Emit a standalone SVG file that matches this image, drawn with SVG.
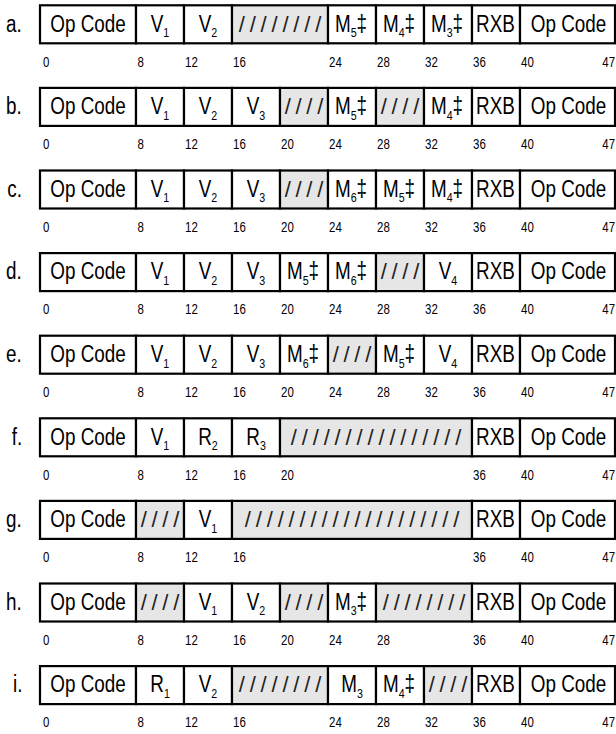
<svg xmlns="http://www.w3.org/2000/svg" width="616" height="734" viewBox="0 0 616 734">
<style>
text{font-family:"Liberation Sans",Arial,sans-serif;fill:#000}
.t,.rl,.n{transform-box:fill-box;transform-origin:center;transform:scaleX(0.82)}
.t{font-size:23px;text-anchor:middle}
.rl{font-size:23px;text-anchor:end}
.s{font-size:13px}
.n{font-size:14px}
.ne{font-size:14px;text-anchor:end}
.f{fill:#fff;stroke:#000;stroke-width:2.2}
.g{fill:#e6e6e6;stroke:#000;stroke-width:2.2}
.sl{font-size:22px;text-anchor:middle;fill:#222}
</style>
<rect width="616" height="734" fill="#fff"/>

<g id="row-a" transform="translate(0,5.3)">
<text class="rl" x="23.5" y="26.4">a.</text>
<rect class="f" x="40" y="0" width="96" height="38"/><text class="t" x="88" y="26.4">Op Code</text>
<rect class="f" x="136" y="0" width="48" height="38"/><text class="t" x="160" y="26.4">V<tspan class="s" dy="5.5">1</tspan></text>
<rect class="f" x="184" y="0" width="48" height="38"/><text class="t" x="208" y="26.4">V<tspan class="s" dy="5.5">2</tspan></text>
<rect class="g" x="232" y="0" width="96" height="38"/><text class="sl" x="280" y="26.4" textLength="82.5">////////</text>
<rect class="f" x="328" y="0" width="48" height="38"/><text class="t" x="351" y="26.4">M<tspan class="s" dy="5.5">5</tspan><tspan dy="-5.5">‡</tspan></text>
<rect class="f" x="376" y="0" width="48" height="38"/><text class="t" x="399" y="26.4">M<tspan class="s" dy="5.5">4</tspan><tspan dy="-5.5">‡</tspan></text>
<rect class="f" x="424" y="0" width="48" height="38"/><text class="t" x="447" y="26.4">M<tspan class="s" dy="5.5">3</tspan><tspan dy="-5.5">‡</tspan></text>
<rect class="f" x="472" y="0" width="48" height="38"/><text class="t" x="495.5" y="26.4">RXB</text>
<rect class="f" x="520" y="0" width="95" height="38"/><text class="t" x="568.5" y="26.4">Op Code</text>
<text class="n" x="42.4" y="61.4">0</text><text class="n" x="136.8" y="61.4">8</text><text class="n" x="183.7" y="61.4">12</text><text class="n" x="231.7" y="61.4">16</text><text class="n" x="327.7" y="61.4">24</text><text class="n" x="375.7" y="61.4">28</text><text class="n" x="423.7" y="61.4">32</text><text class="n" x="471.7" y="61.4">36</text><text class="n" x="519.7" y="61.4">40</text><text class="n ne" x="616.5" y="61.4">47</text>
</g>

<g id="row-b" transform="translate(0,87.9)">
<text class="rl" x="23.5" y="26.4">b.</text>
<rect class="f" x="40" y="0" width="96" height="38"/><text class="t" x="88" y="26.4">Op Code</text>
<rect class="f" x="136" y="0" width="48" height="38"/><text class="t" x="160" y="26.4">V<tspan class="s" dy="5.5">1</tspan></text>
<rect class="f" x="184" y="0" width="48" height="38"/><text class="t" x="208" y="26.4">V<tspan class="s" dy="5.5">2</tspan></text>
<rect class="f" x="232" y="0" width="48" height="38"/><text class="t" x="256" y="26.4">V<tspan class="s" dy="5.5">3</tspan></text>
<rect class="g" x="280" y="0" width="48" height="38"/><text class="sl" x="304" y="26.4" textLength="38.5">////</text>
<rect class="f" x="328" y="0" width="48" height="38"/><text class="t" x="351" y="26.4">M<tspan class="s" dy="5.5">5</tspan><tspan dy="-5.5">‡</tspan></text>
<rect class="g" x="376" y="0" width="48" height="38"/><text class="sl" x="400" y="26.4" textLength="38.5">////</text>
<rect class="f" x="424" y="0" width="48" height="38"/><text class="t" x="447" y="26.4">M<tspan class="s" dy="5.5">4</tspan><tspan dy="-5.5">‡</tspan></text>
<rect class="f" x="472" y="0" width="48" height="38"/><text class="t" x="495.5" y="26.4">RXB</text>
<rect class="f" x="520" y="0" width="95" height="38"/><text class="t" x="568.5" y="26.4">Op Code</text>
<text class="n" x="42.4" y="61.4">0</text><text class="n" x="136.8" y="61.4">8</text><text class="n" x="183.7" y="61.4">12</text><text class="n" x="231.7" y="61.4">16</text><text class="n" x="279.7" y="61.4">20</text><text class="n" x="327.7" y="61.4">24</text><text class="n" x="375.7" y="61.4">28</text><text class="n" x="423.7" y="61.4">32</text><text class="n" x="471.7" y="61.4">36</text><text class="n" x="519.7" y="61.4">40</text><text class="n ne" x="616.5" y="61.4">47</text>
</g>

<g id="row-c" transform="translate(0,170.5)">
<text class="rl" x="23.5" y="26.4">c.</text>
<rect class="f" x="40" y="0" width="96" height="38"/><text class="t" x="88" y="26.4">Op Code</text>
<rect class="f" x="136" y="0" width="48" height="38"/><text class="t" x="160" y="26.4">V<tspan class="s" dy="5.5">1</tspan></text>
<rect class="f" x="184" y="0" width="48" height="38"/><text class="t" x="208" y="26.4">V<tspan class="s" dy="5.5">2</tspan></text>
<rect class="f" x="232" y="0" width="48" height="38"/><text class="t" x="256" y="26.4">V<tspan class="s" dy="5.5">3</tspan></text>
<rect class="g" x="280" y="0" width="48" height="38"/><text class="sl" x="304" y="26.4" textLength="38.5">////</text>
<rect class="f" x="328" y="0" width="48" height="38"/><text class="t" x="351" y="26.4">M<tspan class="s" dy="5.5">6</tspan><tspan dy="-5.5">‡</tspan></text>
<rect class="f" x="376" y="0" width="48" height="38"/><text class="t" x="399" y="26.4">M<tspan class="s" dy="5.5">5</tspan><tspan dy="-5.5">‡</tspan></text>
<rect class="f" x="424" y="0" width="48" height="38"/><text class="t" x="447" y="26.4">M<tspan class="s" dy="5.5">4</tspan><tspan dy="-5.5">‡</tspan></text>
<rect class="f" x="472" y="0" width="48" height="38"/><text class="t" x="495.5" y="26.4">RXB</text>
<rect class="f" x="520" y="0" width="95" height="38"/><text class="t" x="568.5" y="26.4">Op Code</text>
<text class="n" x="42.4" y="61.4">0</text><text class="n" x="136.8" y="61.4">8</text><text class="n" x="183.7" y="61.4">12</text><text class="n" x="231.7" y="61.4">16</text><text class="n" x="279.7" y="61.4">20</text><text class="n" x="327.7" y="61.4">24</text><text class="n" x="375.7" y="61.4">28</text><text class="n" x="423.7" y="61.4">32</text><text class="n" x="471.7" y="61.4">36</text><text class="n" x="519.7" y="61.4">40</text><text class="n ne" x="616.5" y="61.4">47</text>
</g>

<g id="row-d" transform="translate(0,253.1)">
<text class="rl" x="23.5" y="26.4">d.</text>
<rect class="f" x="40" y="0" width="96" height="38"/><text class="t" x="88" y="26.4">Op Code</text>
<rect class="f" x="136" y="0" width="48" height="38"/><text class="t" x="160" y="26.4">V<tspan class="s" dy="5.5">1</tspan></text>
<rect class="f" x="184" y="0" width="48" height="38"/><text class="t" x="208" y="26.4">V<tspan class="s" dy="5.5">2</tspan></text>
<rect class="f" x="232" y="0" width="48" height="38"/><text class="t" x="256" y="26.4">V<tspan class="s" dy="5.5">3</tspan></text>
<rect class="f" x="280" y="0" width="48" height="38"/><text class="t" x="303" y="26.4">M<tspan class="s" dy="5.5">5</tspan><tspan dy="-5.5">‡</tspan></text>
<rect class="f" x="328" y="0" width="48" height="38"/><text class="t" x="351" y="26.4">M<tspan class="s" dy="5.5">6</tspan><tspan dy="-5.5">‡</tspan></text>
<rect class="g" x="376" y="0" width="48" height="38"/><text class="sl" x="400" y="26.4" textLength="38.5">////</text>
<rect class="f" x="424" y="0" width="48" height="38"/><text class="t" x="448" y="26.4">V<tspan class="s" dy="5.5">4</tspan></text>
<rect class="f" x="472" y="0" width="48" height="38"/><text class="t" x="495.5" y="26.4">RXB</text>
<rect class="f" x="520" y="0" width="95" height="38"/><text class="t" x="568.5" y="26.4">Op Code</text>
<text class="n" x="42.4" y="61.4">0</text><text class="n" x="136.8" y="61.4">8</text><text class="n" x="183.7" y="61.4">12</text><text class="n" x="231.7" y="61.4">16</text><text class="n" x="279.7" y="61.4">20</text><text class="n" x="327.7" y="61.4">24</text><text class="n" x="375.7" y="61.4">28</text><text class="n" x="423.7" y="61.4">32</text><text class="n" x="471.7" y="61.4">36</text><text class="n" x="519.7" y="61.4">40</text><text class="n ne" x="616.5" y="61.4">47</text>
</g>

<g id="row-e" transform="translate(0,335.7)">
<text class="rl" x="23.5" y="26.4">e.</text>
<rect class="f" x="40" y="0" width="96" height="38"/><text class="t" x="88" y="26.4">Op Code</text>
<rect class="f" x="136" y="0" width="48" height="38"/><text class="t" x="160" y="26.4">V<tspan class="s" dy="5.5">1</tspan></text>
<rect class="f" x="184" y="0" width="48" height="38"/><text class="t" x="208" y="26.4">V<tspan class="s" dy="5.5">2</tspan></text>
<rect class="f" x="232" y="0" width="48" height="38"/><text class="t" x="256" y="26.4">V<tspan class="s" dy="5.5">3</tspan></text>
<rect class="f" x="280" y="0" width="48" height="38"/><text class="t" x="303" y="26.4">M<tspan class="s" dy="5.5">6</tspan><tspan dy="-5.5">‡</tspan></text>
<rect class="g" x="328" y="0" width="48" height="38"/><text class="sl" x="352" y="26.4" textLength="38.5">////</text>
<rect class="f" x="376" y="0" width="48" height="38"/><text class="t" x="399" y="26.4">M<tspan class="s" dy="5.5">5</tspan><tspan dy="-5.5">‡</tspan></text>
<rect class="f" x="424" y="0" width="48" height="38"/><text class="t" x="448" y="26.4">V<tspan class="s" dy="5.5">4</tspan></text>
<rect class="f" x="472" y="0" width="48" height="38"/><text class="t" x="495.5" y="26.4">RXB</text>
<rect class="f" x="520" y="0" width="95" height="38"/><text class="t" x="568.5" y="26.4">Op Code</text>
<text class="n" x="42.4" y="61.4">0</text><text class="n" x="136.8" y="61.4">8</text><text class="n" x="183.7" y="61.4">12</text><text class="n" x="231.7" y="61.4">16</text><text class="n" x="279.7" y="61.4">20</text><text class="n" x="327.7" y="61.4">24</text><text class="n" x="375.7" y="61.4">28</text><text class="n" x="423.7" y="61.4">32</text><text class="n" x="471.7" y="61.4">36</text><text class="n" x="519.7" y="61.4">40</text><text class="n ne" x="616.5" y="61.4">47</text>
</g>

<g id="row-f" transform="translate(0,418.3)">
<text class="rl" x="23.5" y="26.4">f.</text>
<rect class="f" x="40" y="0" width="96" height="38"/><text class="t" x="88" y="26.4">Op Code</text>
<rect class="f" x="136" y="0" width="48" height="38"/><text class="t" x="160" y="26.4">V<tspan class="s" dy="5.5">1</tspan></text>
<rect class="f" x="184" y="0" width="48" height="38"/><text class="t" x="208" y="26.4">R<tspan class="s" dy="5.5">2</tspan></text>
<rect class="f" x="232" y="0" width="48" height="38"/><text class="t" x="256" y="26.4">R<tspan class="s" dy="5.5">3</tspan></text>
<rect class="g" x="280" y="0" width="192" height="38"/><text class="sl" x="376" y="26.4" textLength="170.5">////////////////</text>
<rect class="f" x="472" y="0" width="48" height="38"/><text class="t" x="495.5" y="26.4">RXB</text>
<rect class="f" x="520" y="0" width="95" height="38"/><text class="t" x="568.5" y="26.4">Op Code</text>
<text class="n" x="42.4" y="61.4">0</text><text class="n" x="136.8" y="61.4">8</text><text class="n" x="183.7" y="61.4">12</text><text class="n" x="231.7" y="61.4">16</text><text class="n" x="279.7" y="61.4">20</text><text class="n" x="471.7" y="61.4">36</text><text class="n" x="519.7" y="61.4">40</text><text class="n ne" x="616.5" y="61.4">47</text>
</g>

<g id="row-g" transform="translate(0,500.9)">
<text class="rl" x="23.5" y="26.4">g.</text>
<rect class="f" x="40" y="0" width="96" height="38"/><text class="t" x="88" y="26.4">Op Code</text>
<rect class="g" x="136" y="0" width="48" height="38"/><text class="sl" x="160" y="26.4" textLength="38.5">////</text>
<rect class="f" x="184" y="0" width="48" height="38"/><text class="t" x="208" y="26.4">V<tspan class="s" dy="5.5">1</tspan></text>
<rect class="g" x="232" y="0" width="240" height="38"/><text class="sl" x="352" y="26.4" textLength="214.5">////////////////////</text>
<rect class="f" x="472" y="0" width="48" height="38"/><text class="t" x="495.5" y="26.4">RXB</text>
<rect class="f" x="520" y="0" width="95" height="38"/><text class="t" x="568.5" y="26.4">Op Code</text>
<text class="n" x="42.4" y="61.4">0</text><text class="n" x="136.8" y="61.4">8</text><text class="n" x="183.7" y="61.4">12</text><text class="n" x="231.7" y="61.4">16</text><text class="n" x="471.7" y="61.4">36</text><text class="n" x="519.7" y="61.4">40</text><text class="n ne" x="616.5" y="61.4">47</text>
</g>

<g id="row-h" transform="translate(0,583.5)">
<text class="rl" x="23.5" y="26.4">h.</text>
<rect class="f" x="40" y="0" width="96" height="38"/><text class="t" x="88" y="26.4">Op Code</text>
<rect class="g" x="136" y="0" width="48" height="38"/><text class="sl" x="160" y="26.4" textLength="38.5">////</text>
<rect class="f" x="184" y="0" width="48" height="38"/><text class="t" x="208" y="26.4">V<tspan class="s" dy="5.5">1</tspan></text>
<rect class="f" x="232" y="0" width="48" height="38"/><text class="t" x="256" y="26.4">V<tspan class="s" dy="5.5">2</tspan></text>
<rect class="g" x="280" y="0" width="48" height="38"/><text class="sl" x="304" y="26.4" textLength="38.5">////</text>
<rect class="f" x="328" y="0" width="48" height="38"/><text class="t" x="351" y="26.4">M<tspan class="s" dy="5.5">3</tspan><tspan dy="-5.5">‡</tspan></text>
<rect class="g" x="376" y="0" width="96" height="38"/><text class="sl" x="424" y="26.4" textLength="82.5">////////</text>
<rect class="f" x="472" y="0" width="48" height="38"/><text class="t" x="495.5" y="26.4">RXB</text>
<rect class="f" x="520" y="0" width="95" height="38"/><text class="t" x="568.5" y="26.4">Op Code</text>
<text class="n" x="42.4" y="61.4">0</text><text class="n" x="136.8" y="61.4">8</text><text class="n" x="183.7" y="61.4">12</text><text class="n" x="231.7" y="61.4">16</text><text class="n" x="279.7" y="61.4">20</text><text class="n" x="327.7" y="61.4">24</text><text class="n" x="375.7" y="61.4">28</text><text class="n" x="471.7" y="61.4">36</text><text class="n" x="519.7" y="61.4">40</text><text class="n ne" x="616.5" y="61.4">47</text>
</g>

<g id="row-i" transform="translate(0,666.1)">
<text class="rl" x="23.5" y="26.4">i.</text>
<rect class="f" x="40" y="0" width="96" height="38"/><text class="t" x="88" y="26.4">Op Code</text>
<rect class="f" x="136" y="0" width="48" height="38"/><text class="t" x="160" y="26.4">R<tspan class="s" dy="5.5">1</tspan></text>
<rect class="f" x="184" y="0" width="48" height="38"/><text class="t" x="208" y="26.4">V<tspan class="s" dy="5.5">2</tspan></text>
<rect class="g" x="232" y="0" width="96" height="38"/><text class="sl" x="280" y="26.4" textLength="82.5">////////</text>
<rect class="f" x="328" y="0" width="48" height="38"/><text class="t" x="352" y="26.4">M<tspan class="s" dy="5.5">3</tspan></text>
<rect class="f" x="376" y="0" width="48" height="38"/><text class="t" x="399" y="26.4">M<tspan class="s" dy="5.5">4</tspan><tspan dy="-5.5">‡</tspan></text>
<rect class="g" x="424" y="0" width="48" height="38"/><text class="sl" x="448" y="26.4" textLength="38.5">////</text>
<rect class="f" x="472" y="0" width="48" height="38"/><text class="t" x="495.5" y="26.4">RXB</text>
<rect class="f" x="520" y="0" width="95" height="38"/><text class="t" x="568.5" y="26.4">Op Code</text>
<text class="n" x="42.4" y="61.4">0</text><text class="n" x="136.8" y="61.4">8</text><text class="n" x="183.7" y="61.4">12</text><text class="n" x="231.7" y="61.4">16</text><text class="n" x="327.7" y="61.4">24</text><text class="n" x="375.7" y="61.4">28</text><text class="n" x="423.7" y="61.4">32</text><text class="n" x="471.7" y="61.4">36</text><text class="n" x="519.7" y="61.4">40</text><text class="n ne" x="616.5" y="61.4">47</text>
</g>
</svg>
